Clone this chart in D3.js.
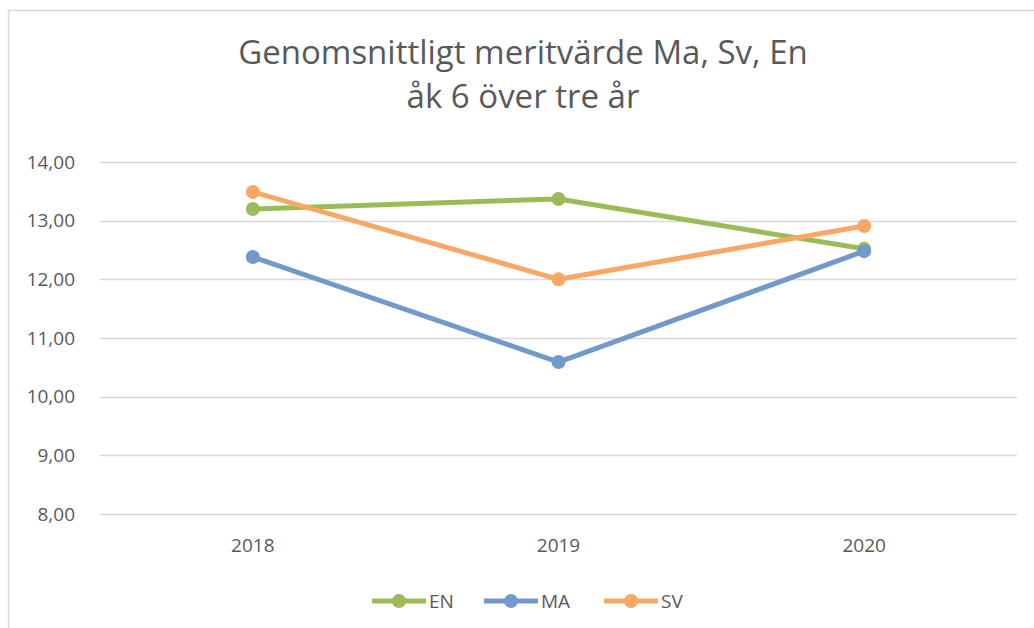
<!DOCTYPE html>
<html>
<head>
<meta charset="utf-8">
<script src="https://cdn.jsdelivr.net/npm/d3@7"></script>
<style>
  body { margin: 0; background: #fff; }
  text { font-family: "Open Sans", Lato, sans-serif; fill: #595959; }
</style>
</head>
<body>
<script>
const years = ['2018', '2019', '2020'];
const seriesNames = ['EN', 'MA', 'SV'];
const enValues = [13.20, 13.37, 12.52];
const maValues = [12.38, 10.59, 12.48];
const svValues = [13.49, 12.00, 12.91];
const yTicks = [8, 9, 10, 11, 12, 13, 14];
const titleLines = ['Genomsnittligt meritvärde Ma, Sv, En', 'åk 6 över tre år'];

const colors = { EN: '#9bbb59', MA: '#7199c9', SV: '#f8a765' };

window.onload = () => {
    const width = 1034;
    const height = 628;
    const font = '"Open Sans", Lato, sans-serif';

    const svg = d3.select('body')
                  .append('svg')
                  .attr('width', width)
                  .attr('height', height);

    // chart frame (top + left edges visible)
    svg.append('path')
       .attr('d', 'M 8.5 628 L 8.5 10.5 L 1034 10.5')
       .style('fill', 'none')
       .style('stroke', '#d9d9d9')
       .style('stroke-width', '1.5px');

    // title
    svg.append('text')
       .attr('text-anchor', 'middle')
       .style('font-size', '33px')
       .selectAll('tspan')
       .data(titleLines)
       .enter()
       .append('tspan')
       .attr('x', 523)
       .attr('y', (d, i) => 64 + i * 44)
       .text(d => d);

    const x = d3.scaleBand()
                .domain(years)
                .range([100, 1017]);

    const y = d3.scaleLinear()
                .domain([8, 14])
                .range([514, 162]);

    // gridlines
    svg.append('g')
       .selectAll('line')
       .data(yTicks)
       .enter()
       .append('line')
       .attr('x1', 100)
       .attr('x2', 1017)
       .attr('y1', d => Math.round(y(d)) + 0.5)
       .attr('y2', d => Math.round(y(d)) + 0.5)
       .style('stroke', '#d9d9d9')
       .style('stroke-width', '1.5px');

    // y axis labels
    const yAxis = svg.append('g')
       .attr('transform', 'translate(90,0)')
       .call(d3.axisLeft(y).tickValues(yTicks).tickSize(0).tickPadding(15)
             .tickFormat(d => d3.format('.2f')(d).replace('.', ',')));
    yAxis.select('.domain').remove();
    yAxis.selectAll('text')
         .style('font-size', '19px')
         .style('fill', '#595959')
         .style('font-family', font);

    // x axis labels
    const xAxis = svg.append('g')
       .attr('transform', 'translate(0,514)')
       .call(d3.axisBottom(x).tickSize(0).tickPadding(25));
    xAxis.select('.domain').remove();
    xAxis.selectAll('text')
         .style('font-size', '19px')
         .style('fill', '#595959')
         .style('font-family', font);

    const series = [
        { name: 'EN', values: enValues },
        { name: 'MA', values: maValues },
        { name: 'SV', values: svValues }
    ];

    const line = d3.line()
                   .x((d, i) => x(years[i]) + x.bandwidth() / 2)
                   .y(d => y(d));

    series.forEach(s => {
        const g = svg.append('g');
        g.append('path')
         .attr('d', line(s.values))
         .style('fill', 'none')
         .style('stroke', colors[s.name])
         .style('stroke-width', '5px')
         .style('stroke-linejoin', 'round');
        g.selectAll('circle')
         .data(s.values)
         .enter()
         .append('circle')
         .attr('cx', (d, i) => x(years[i]) + x.bandwidth() / 2)
         .attr('cy', d => y(d))
         .attr('r', 7)
         .style('fill', colors[s.name]);
    });

    // legend
    const legendX = [372, 484, 604];
    const legend = svg.append('g')
       .selectAll('g')
       .data(seriesNames)
       .enter()
       .append('g')
       .attr('transform', (d, i) => `translate(${legendX[i]},601)`);

    legend.append('line')
          .attr('x1', 0)
          .attr('x2', 54)
          .style('stroke', d => colors[d])
          .style('stroke-width', '5px');

    legend.append('circle')
          .attr('cx', 27)
          .attr('r', 7)
          .style('fill', d => colors[d]);

    legend.append('text')
          .attr('x', 57)
          .attr('dy', '0.36em')
          .style('font-size', '19px')
          .text(d => d);
};
</script>
</body>
</html>
